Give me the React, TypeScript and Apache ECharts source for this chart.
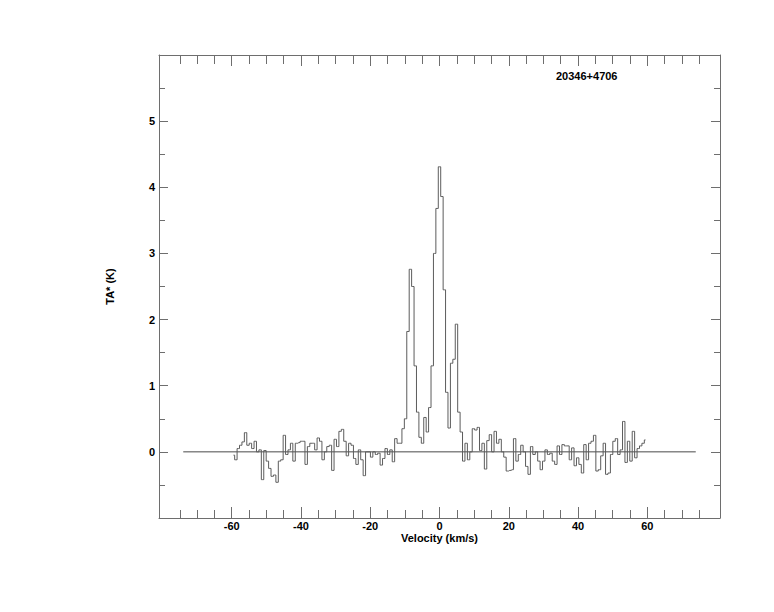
import React, { useEffect, useRef } from "react";
import * as echarts from "echarts";

const TITLE = "20346+4706";
const X_NAME = "Velocity (km/s)";
const Y_NAME = "TA* (K)";

const START_VELOCITY = -59.5;
const CHANNEL_WIDTH = 0.7;

const TA_VALUES = [
  -0.05, -0.12, 0.05, 0.1, 0.15, 0.29, 0.1, 0.13, 0.05, 0.16,
  0.0, 0.03, -0.42, 0.02, -0.14, -0.25, -0.37, -0.35, -0.46, -0.14,
  -0.12, 0.25, -0.04, 0.03, 0.13, -0.14, 0.13, 0.14, 0.16, 0.16,
  -0.19, 0.08, 0.13, 0.13, 0.03, 0.21, 0.16, -0.12, 0.0, 0.08,
  0.1, -0.28, 0.19, 0.08, 0.31, 0.34, 0.16, -0.06, 0.13, 0.1,
  -0.1, -0.19, 0.03, -0.12, -0.36, 0.0, 0.0, -0.08, 0.0, -0.04,
  -0.02, -0.2, -0.1, 0.05, -0.04, 0.03, -0.15, 0.2, 0.13, 0.13,
  0.35, 0.5, 1.82, 2.76, 2.5, 1.3, 0.6, 0.22, 0.13, 0.52,
  0.3, 0.67, 1.3, 3.0, 3.68, 4.31, 3.86, 2.45, 0.9, 0.36,
  1.34, 1.4, 1.93, 0.6, 0.3, -0.14, 0.13, -0.12, 0.0, 0.35,
  0.33, 0.37, 0.02, 0.13, -0.26, 0.17,
  0.26, 0.0, 0.31, 0.13, 0.19, 0.0, -0.08, -0.29, -0.28, -0.27,
  0.2, -0.14, -0.04, 0.1, 0.0, -0.22, -0.34, 0.08, -0.04, 0.0,
  -0.14, -0.27, -0.14, 0.03, -0.04, -0.02, -0.14, -0.19, 0.09, -0.04,
  0.11, 0.09, 0.09, -0.12, 0.06, -0.21, -0.09, -0.19, -0.32, 0.11,
  -0.12, 0.13, 0.16, 0.25, -0.29, -0.27, -0.06, 0.13, -0.34, -0.32,
  -0.04, 0.16, 0.2, -0.04, 0.03, 0.46, -0.16, 0.16, -0.14, 0.31,
  -0.09, 0.05, 0.09, 0.13, 0.18,
];

const BASELINE_RANGE = [-74, 74];

const X_MINOR_TICKS = [-75, -70, -65, -60, -55, -50, -45, -40, -35, -30, -25, -20, -15, -10, -5, 0, 5, 10, 15, 20, 25, 30, 35, 40, 45, 50, 55, 60, 65, 70, 75];
const X_MAJOR_TICKS = [-60, -40, -20, 0, 20, 40, 60];
const Y_MINOR_TICKS = [-0.5, 0, 0.5, 1, 1.5, 2, 2.5, 3, 3.5, 4, 4.5, 5, 5.5];
const Y_MAJOR_TICKS = [0, 1, 2, 3, 4, 5];

const X_MIN = -81;
const X_MAX = 81;
const Y_MIN = -1;
const Y_MAX = 6;

const FONT = "Liberation Sans, Arial, Helvetica, sans-serif";
const FRAME = "#6e6e6e";
const LINE = "#5c5c5c";

export default function App() {
  const ref = useRef<HTMLDivElement>(null);

  useEffect(() => {
    document.body.style.margin = "0";
    if (!ref.current) return;
    const chart = echarts.init(ref.current, null, { renderer: "svg" });

    const spectrum = TA_VALUES.map((v, i) => [START_VELOCITY + CHANNEL_WIDTH * i, v]);
    const baseline = BASELINE_RANGE.map((x) => [x, 0]);

    const labelStyle = { color: "#000", fontFamily: FONT, fontWeight: "bold", fontSize: 11 };

    const xAx = (position: string, ticks: number[], len: number, line: boolean, labels: boolean) => ({
      type: "value",
      position,
      min: X_MIN,
      max: X_MAX,
      offset: 0,
      splitLine: { show: false },
      axisLine: { show: line, onZero: false, lineStyle: { color: FRAME, width: 1 } },
      axisTick: { show: true, inside: true, length: len, customValues: ticks, lineStyle: { color: FRAME, width: 1 } },
      axisLabel: labels
        ? { show: true, customValues: X_MAJOR_TICKS, margin: 2, ...labelStyle }
        : { show: false },
      ...(labels
        ? { name: X_NAME, nameLocation: "middle", nameGap: 14, nameMoveOverlap: false, nameTextStyle: { ...labelStyle } }
        : {}),
    });

    const yAx = (position: string, ticks: number[], len: number, line: boolean, labels: boolean) => ({
      type: "value",
      position,
      min: Y_MIN,
      max: Y_MAX,
      offset: 0,
      splitLine: { show: false },
      axisLine: { show: line, onZero: false, lineStyle: { color: FRAME, width: 1 } },
      axisTick: { show: true, inside: true, length: len, customValues: ticks, lineStyle: { color: FRAME, width: 1 } },
      axisLabel: labels
        ? { show: true, customValues: Y_MAJOR_TICKS, margin: 4, ...labelStyle }
        : { show: false },
      ...(labels
        ? { name: Y_NAME, nameLocation: "middle", nameGap: 44, nameMoveOverlap: false, nameRotate: 90, nameTextStyle: { ...labelStyle } }
        : {}),
    });

    chart.setOption({
      animation: false,
      backgroundColor: "#fff",
      title: {
        text: TITLE,
        left: 551,
        top: 65,
        textStyle: { ...labelStyle },
      },
      grid: { left: 159, right: 54, top: 55, bottom: 94, containLabel: false },
      xAxis: [
        xAx("bottom", X_MINOR_TICKS, 8, true, true),
        xAx("bottom", X_MAJOR_TICKS, 11, false, false),
        xAx("top", X_MINOR_TICKS, 9, true, false),
        xAx("top", X_MAJOR_TICKS, 11, false, false),
      ],
      yAxis: [
        yAx("left", Y_MINOR_TICKS, 6, true, true),
        yAx("left", Y_MAJOR_TICKS, 9, false, false),
        yAx("right", Y_MINOR_TICKS, 6, true, false),
        yAx("right", Y_MAJOR_TICKS, 9, false, false),
      ],
      series: [
        {
          type: "line",
          xAxisIndex: 0,
          yAxisIndex: 0,
          data: baseline,
          showSymbol: false,
          symbol: "none",
          lineStyle: { color: "#4a4a4a", width: 1 },
          silent: true,
        },
        {
          type: "line",
          xAxisIndex: 0,
          yAxisIndex: 0,
          step: "middle",
          data: spectrum,
          showSymbol: false,
          symbol: "none",
          lineStyle: { color: LINE, width: 1 },
          silent: true,
        },
      ],
    });

    return () => chart.dispose();
  }, []);

  return <div ref={ref} style={{ width: 774, height: 612 }} />;
}
